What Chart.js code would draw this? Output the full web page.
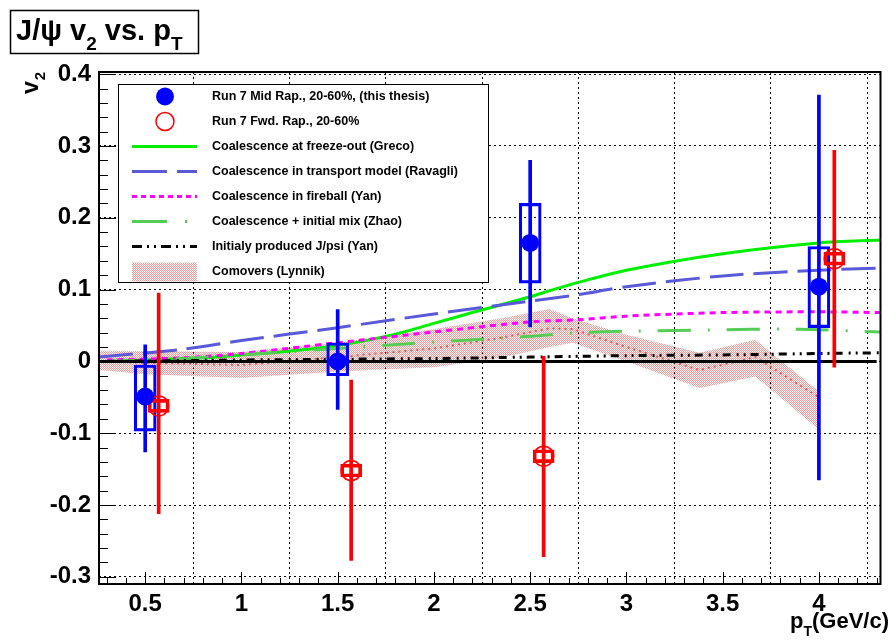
<!DOCTYPE html>
<html lang="en">
<head>
  <meta charset="UTF-8" />
  <title>J/psi v2 vs. pT</title>
  <script src="https://cdn.jsdelivr.net/npm/chart.js@4.4.0/dist/chart.umd.min.js"></script>
  <style>
    html, body { margin: 0; padding: 0; background: #fff; }
    #wrap { position: relative; width: 892px; height: 643px; }
  </style>
</head>
<body>
<div id="wrap"><canvas id="v2Chart" width="892" height="643"></canvas></div>
<script>
  // ---- axis ticks ----
  const xTicks = [0.5, 1, 1.5, 2, 2.5, 3, 3.5, 4];
  const xTickLabels = ["0.5", "1", "1.5", "2", "2.5", "3", "3.5", "4"];
  const yTicks = [-0.3, -0.2, -0.1, 0, 0.1, 0.2, 0.3, 0.4];
  const yTickLabels = ["-0.3", "-0.2", "-0.1", "0", "0.1", "0.2", "0.3", "0.4"];

  // ---- Run 7 mid rapidity (this thesis) ----
  const midPt = [0.5, 1.5, 2.5, 4.0];
  const midV2 = [-0.049, 0.0, 0.165, 0.104];
  const midStatLo = [-0.126, -0.067, 0.048, -0.165];
  const midStatHi = [0.023, 0.072, 0.28, 0.371];
  const midSysLo = [-0.097, -0.02, 0.109, 0.047];
  const midSysHi = [-0.005, 0.026, 0.22, 0.16];

  // ---- Run 7 forward rapidity ----
  const fwdPt = [0.57, 1.57, 2.57, 4.08];
  const fwdV2 = [-0.062, -0.152, -0.132, 0.143];
  const fwdStatLo = [-0.212, -0.277, -0.272, -0.008];
  const fwdStatHi = [0.095, -0.026, 0.007, 0.294];
  const fwdSysLo = [-0.071, -0.161, -0.141, 0.134];
  const fwdSysHi = [-0.053, -0.143, -0.123, 0.152];

  // ---- model curves ----
  const grecoPt = [0.3, 0.5, 0.8, 1.0, 1.2, 1.5, 1.8, 2.0, 2.2, 2.5, 2.62, 2.75, 3.0, 3.5, 4.0, 4.32];
  const grecoV2 = [0.0, 0.002, 0.005, 0.009, 0.013, 0.022, 0.038, 0.053, 0.068, 0.09, 0.1, 0.11, 0.127, 0.15, 0.165, 0.169];

  const ravagliPt = [0.26, 0.7, 1.0, 1.5, 2.0, 2.5, 2.75, 3.0, 3.5, 4.0, 4.32];
  const ravagliV2 = [0.006, 0.017, 0.029, 0.047, 0.066, 0.084, 0.093, 0.104, 0.119, 0.127, 0.13];

  const yanPt = [0.3, 0.7, 1.0, 1.5, 2.0, 2.5, 2.75, 3.0, 3.5, 4.0, 4.32];
  const yanV2 = [0.002, 0.005, 0.011, 0.026, 0.041, 0.055, 0.058, 0.063, 0.068, 0.069, 0.068];

  const zhaoPt = [0.3, 0.7, 1.0, 1.5, 2.0, 2.5, 2.75, 3.0, 3.5, 3.8, 4.0, 4.32];
  const zhaoV2 = [0.0, 0.004, 0.009, 0.018, 0.027, 0.035, 0.04, 0.042, 0.044, 0.045, 0.044, 0.041];

  const initPt = [0.3, 1.0, 1.5, 2.0, 2.5, 3.0, 3.5, 4.0, 4.32];
  const initV2 = [0.0, 0.002, 0.003, 0.004, 0.006, 0.008, 0.009, 0.011, 0.012];

  // comovers band (Lynnik)
  const comovPt = [0.26, 0.5, 1.0, 1.5, 2.0, 2.35, 2.6, 2.72, 3.0, 3.38, 3.67, 4.0];
  const comovHi = [0.015, 0.014, 0.013, 0.026, 0.045, 0.06, 0.073, 0.06, 0.037, 0.012, 0.03, -0.042];
  const comovLo = [-0.012, -0.018, -0.023, -0.014, -0.008, 0.005, 0.02, 0.026, 0.0, -0.037, -0.021, -0.095];
  const comovMid = [0.0, -0.002, -0.005, 0.006, 0.018, 0.033, 0.046, 0.045, 0.02, -0.012, 0.006, -0.05];

  // zero reference line
  const zeroPt = [0.26, 4.3];
  const zeroV2 = [0, 0];

  const legendLabels = [
    "Run 7 Mid Rap., 20-60%, (this thesis)",
    "Run 7 Fwd. Rap., 20-60%",
    "Coalescence at freeze-out (Greco)",
    "Coalescence in transport model (Ravagli)",
    "Coalescence in fireball (Yan)",
    "Coalescence + initial mix (Zhao)",
    "Initialy produced J/psi (Yan)",
    "Comovers (Lynnik)"
  ];

  // ---- helpers ----
  const pts = (xs, ys) => xs.map((x, i) => ({ x: x, y: ys[i] }));
  const ranges = (xs, lo, hi) => xs.map((x, i) => ({ x: x, y: [lo[i], hi[i]] }));

  // dotted red fill like ROOT fill style
  function makeDotPattern() {
    const pc = document.createElement("canvas");
    pc.width = 2; pc.height = 2;
    const g = pc.getContext("2d");
    g.fillStyle = "rgba(228,60,60,0.55)";
    g.fillRect(0, 0, 1, 1);
    g.fillRect(1, 1, 1, 1);
    return document.getElementById("v2Chart").getContext("2d").createPattern(pc, "repeat");
  }
  const dotPattern = makeDotPattern();

  const FONT = "'Liberation Sans', Arial, Helvetica, sans-serif";
  const BLUE = "#0000ff", RED = "#ff0000";
  const GRECO = "#00ee00", RAVAGLI = "#5a5ad8", YAN = "#ff00ff", ZHAO = "#55cc55";

  const lineBase = { type: "line", pointRadius: 0, borderWidth: 3, fill: false };

  // ---- ROOT style decorations: frame, ticks, legend, titles ----
  const rootDecor = {
    id: "rootDecor",
    afterDraw(chart) {
      const c = chart.ctx;
      const a = chart.chartArea;
      const xs = chart.scales.x, ys = chart.scales.y;
      c.save();

      // minor + major tick marks inside the frame
      c.strokeStyle = "#000";
      c.lineWidth = 1;
      c.beginPath();
      for (let k = -15; k <= 20; k++) {
        const p = Math.round(ys.getPixelForValue(k * 0.02)) + 0.5;
        if (p < a.top || p > a.bottom) continue;
        const len = (k % 5 === 0) ? 17 : 9;
        c.moveTo(a.left, p); c.lineTo(a.left + len, p);
      }
      for (let k = 3; k <= 43; k++) {
        const p = Math.round(xs.getPixelForValue(k * 0.1)) + 0.5;
        if (p < a.left || p > a.right) continue;
        const len = (k % 5 === 0) ? 12 : 6;
        c.moveTo(p, a.bottom); c.lineTo(p, a.bottom - len);
      }
      c.stroke();

      c.lineWidth = 2;
      c.strokeRect(a.left, a.top, a.right - a.left, a.bottom - a.top);

      // legend box
      const lx = 118.5, ly = 84.5, lw = 370, lh = 198;
      c.fillStyle = "#fff";
      c.fillRect(lx, ly, lw, lh);
      c.lineWidth = 1;
      c.strokeStyle = "#000";
      c.strokeRect(lx, ly, lw, lh);

      const rowY = i => 96.5 + i * 25;
      const mx = 165, l0 = 132, l1 = 197;
      // markers
      c.fillStyle = BLUE;
      c.beginPath(); c.arc(mx, rowY(0), 9, 0, Math.PI * 2); c.fill();
      c.strokeStyle = RED; c.lineWidth = 1.5;
      c.beginPath(); c.arc(mx, rowY(1), 9, 0, Math.PI * 2); c.stroke();
      const legLine = (i, color, dash) => {
        c.strokeStyle = color; c.lineWidth = 3; c.setLineDash(dash);
        c.beginPath(); c.moveTo(l0, rowY(i)); c.lineTo(l1, rowY(i)); c.stroke();
      };
      legLine(2, GRECO, []);
      legLine(3, RAVAGLI, [35, 10]);
      legLine(4, YAN, [5, 4]);
      legLine(5, ZHAO, [35, 18, 2, 18]);
      legLine(6, "#000", [10, 5, 2, 5, 2, 5]);
      c.setLineDash([]);
      c.fillStyle = dotPattern;
      c.fillRect(l0, rowY(7) - 9, l1 - l0, 19);

      c.fillStyle = "#000";
      c.font = "bold 12.5px " + FONT;
      c.textBaseline = "middle";
      c.textAlign = "left";
      legendLabels.forEach((t, i) => c.fillText(t, 212, rowY(i)));

      // plot title box
      c.lineWidth = 1.5;
      c.strokeRect(10.5, 10.5, 188, 43);
      c.textBaseline = "alphabetic";
      let tx = 16;
      const big = "bold 29px " + FONT, small = "bold 19px " + FONT;
      const put = (txt, font, dy) => { c.font = font; c.fillText(txt, tx, 40 + dy); tx += c.measureText(txt).width; };
      put("J/\u03c8 v", big, 0);
      put("2", small, 10);
      put(" vs. p", big, 0);
      put("T", small, 10);

      // x axis title, right aligned
      const xBig = "bold 22px " + FONT, xSmall = "bold 14px " + FONT;
      c.font = xBig; const wp = c.measureText("p").width, wr = c.measureText("(GeV/c)").width;
      c.font = xSmall; const wt = c.measureText("T").width;
      let ax = 889 - (wp + wt + wr);
      c.font = xBig; c.fillText("p", ax, 628); ax += wp;
      c.font = xSmall; c.fillText("T", ax, 636); ax += wt;
      c.font = xBig; c.fillText("(GeV/c)", ax, 628);

      // y axis title, rotated
      c.translate(38, 94);
      c.rotate(-Math.PI / 2);
      c.font = "bold 23px " + FONT;
      c.fillText("v", 0, 0);
      const wv = c.measureText("v").width;
      c.font = "bold 15px " + FONT;
      c.fillText("2", wv + 1, 7);

      c.restore();
    }
  };

  const tickFont = { family: FONT, weight: "bold", size: 24 };

  new Chart(document.getElementById("v2Chart"), {
    type: "scatter",
    data: {
      datasets: [
        { label: legendLabels[0], data: pts(midPt, midV2), pointRadius: 9, pointBackgroundColor: BLUE, pointBorderColor: BLUE, pointBorderWidth: 0 },
        { label: legendLabels[1], data: pts(fwdPt, fwdV2), pointRadius: 10, pointBackgroundColor: "rgba(0,0,0,0)", pointBorderColor: RED, pointBorderWidth: 1.5 },
        { type: "bar", data: ranges(fwdPt, fwdSysLo, fwdSysHi), barThickness: 21, grouped: false, borderSkipped: false,
          backgroundColor: "rgba(0,0,0,0)", borderColor: RED, borderWidth: 3 },
        { type: "bar", data: ranges(midPt, midSysLo, midSysHi), barThickness: 22, grouped: false, borderSkipped: false,
          backgroundColor: "rgba(0,0,0,0)", borderColor: BLUE, borderWidth: 2.5 },
        { type: "bar", data: ranges(fwdPt, fwdStatLo, fwdStatHi), barThickness: 3, grouped: false, borderSkipped: false,
          backgroundColor: RED, borderWidth: 0 },
        { type: "bar", data: ranges(midPt, midStatLo, midStatHi), barThickness: 3, grouped: false, borderSkipped: false,
          backgroundColor: BLUE, borderWidth: 0 },
        Object.assign({}, lineBase, { data: pts(zeroPt, zeroV2), borderColor: "#000", borderWidth: 3 }),
        Object.assign({}, lineBase, { label: legendLabels[6], data: pts(initPt, initV2), borderColor: "#000", borderDash: [8, 6, 2, 5, 2, 5], tension: 0.3 }),
        Object.assign({}, lineBase, { label: legendLabels[5], data: pts(zhaoPt, zhaoV2), borderColor: ZHAO, borderDash: [33, 17, 2, 17], tension: 0.3 }),
        Object.assign({}, lineBase, { label: legendLabels[4], data: pts(yanPt, yanV2), borderColor: YAN, borderDash: [6, 5], tension: 0.3 }),
        Object.assign({}, lineBase, { label: legendLabels[3], data: pts(ravagliPt, ravagliV2), borderColor: RAVAGLI, borderDash: [34, 10], tension: 0.3 }),
        Object.assign({}, lineBase, { label: legendLabels[2], data: pts(grecoPt, grecoV2), borderColor: GRECO, tension: 0.3 }),
        Object.assign({}, lineBase, { data: pts(comovPt, comovMid), borderColor: "#d85a5a", borderWidth: 2, borderDash: [2, 4], tension: 0 }),
        Object.assign({}, lineBase, { label: legendLabels[7], data: pts(comovPt, comovHi), borderWidth: 0, borderColor: "rgba(0,0,0,0)",
          backgroundColor: dotPattern, fill: "+1", tension: 0 }),
        Object.assign({}, lineBase, { data: pts(comovPt, comovLo), borderWidth: 0, borderColor: "rgba(0,0,0,0)", tension: 0 })
      ]
    },
    options: {
      responsive: false,
      animation: false,
      devicePixelRatio: 1,
      layout: { padding: { top: 72, right: 6, left: 0, bottom: 0 } },
      plugins: { legend: { display: false }, tooltip: { enabled: false }, title: { display: false } },
      scales: {
        x: {
          type: "linear", min: 0.26, max: 4.32, offset: false,
          afterBuildTicks: s => { s.ticks = xTicks.map(v => ({ value: v })); },
          afterFit: s => { s.height = 59; },
          grid: { color: "#000", lineWidth: 1, drawTicks: false },
          border: { display: false, dash: [2, 3] },
          ticks: { color: "#000", font: tickFont, padding: 6, maxRotation: 0, autoSkip: false,
                   callback: v => xTickLabels[xTicks.indexOf(v)] }
        },
        y: {
          type: "linear", min: -0.31, max: 0.403,
          afterBuildTicks: s => { s.ticks = yTicks.map(v => ({ value: v })); },
          afterFit: s => { s.width = 99; },
          grid: { color: "#000", lineWidth: 1, drawTicks: false },
          border: { display: false, dash: [2, 3] },
          ticks: { color: "#000", font: tickFont, padding: 8, autoSkip: false,
                   callback: v => yTickLabels[yTicks.indexOf(v)] }
        }
      }
    },
    plugins: [rootDecor]
  });
</script>
</body>
</html>
